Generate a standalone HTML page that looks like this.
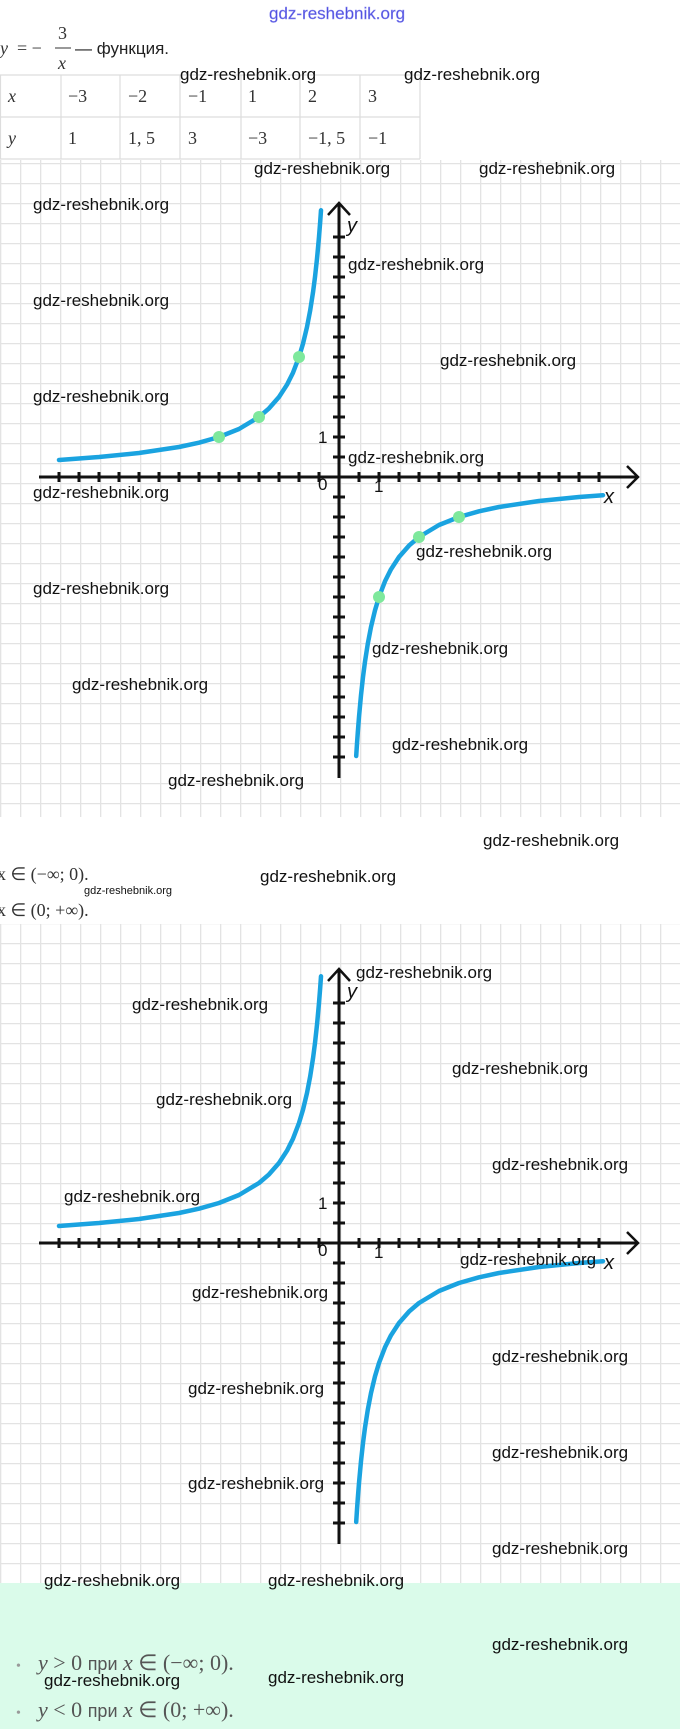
<!DOCTYPE html>
<html><head><meta charset="utf-8"><style>
html,body{margin:0;padding:0;background:#fff;}
svg{display:block;}
.wm{font-family:"Liberation Sans",sans-serif;font-size:17px;fill:#111;}
.ser{font-family:"Liberation Serif",serif;font-size:18px;fill:#333;}
.it{font-style:italic;}
</style></head><body>
<svg width="680" height="1729" viewBox="0 0 680 1729" xmlns="http://www.w3.org/2000/svg">
<defs>
<pattern id="g1" width="20" height="20" patternUnits="userSpaceOnUse" x="0" y="3">
<path d="M0 0.5H20M0.5 0V20" stroke="#e3e3e3" stroke-width="1.6" fill="none"/>
</pattern>
<g id="graph">
<g stroke="#111" stroke-width="3" fill="none" stroke-linecap="butt">
<line x1="39" y1="477" x2="637" y2="477"/>
<line x1="339" y1="204" x2="339" y2="778"/>
<polyline points="627,466 638,477 627,488" stroke-width="2.5"/>
<polyline points="328,215 339,203 350,215" stroke-width="2.5"/>
<path d="M59 472v10M79 472v10M99 472v10M119 472v10M139 472v10M159 472v10M179 472v10M199 472v10M219 472v10M239 472v10M259 472v10M279 472v10M299 472v10M319 472v10M359 472v10M379 472v10M399 472v10M419 472v10M439 472v10M459 472v10M479 472v10M499 472v10M519 472v10M539 472v10M559 472v10M579 472v10M599 472v10"/>
<path d="M333 237h12M333 257h12M333 277h12M333 297h12M333 317h12M333 337h12M333 357h12M333 377h12M333 397h12M333 417h12M333 437h12M333 457h12M333 497h12M333 517h12M333 537h12M333 557h12M333 577h12M333 597h12M333 617h12M333 637h12M333 657h12M333 677h12M333 697h12M333 717h12M333 737h12M333 757h12"/>
</g>
<g stroke="#1aa3e0" stroke-width="4.5" fill="none" stroke-linecap="round" stroke-linejoin="round">
<polyline points="59,460 99,457 139,453 179,447 199,442.7 219,437 239,429 259,417 269,408.4 279,397 287,384.7 293,372.7 299,357 303,343.7 307,327 310.2,310.3 313,292.4 315,277 317,258.8 319,237 320.2,221.7 321,210.3"/>
<polyline points="356.2,756 357,743.7 357.8,732.3 359,717 361,695.2 363,677 365,661.6 367.8,643.7 371,627 375,610.3 379,597 385,581.3 391,569.3 399,557 409,545.6 419,537 439,525 459,517 479,511.3 499,507 539,501 579,497 603,495.2"/>
</g>
<text x="318" y="443" font-family="Liberation Sans,sans-serif" font-size="17" fill="#111">1</text>
<text x="318" y="490" font-family="Liberation Sans,sans-serif" font-size="17" fill="#111">0</text>
<text x="374" y="492" font-family="Liberation Sans,sans-serif" font-size="17" fill="#111">1</text>
<text x="347" y="232" font-family="Liberation Sans,sans-serif" font-size="20" font-style="italic" fill="#111">y</text>
<text x="604" y="503" font-family="Liberation Sans,sans-serif" font-size="20" font-style="italic" fill="#111">x</text>
</g>
</defs>
<rect x="0" y="160" width="680" height="657" fill="url(#g1)"/>
<rect x="0" y="924" width="680" height="659" fill="url(#g1)"/>
<rect x="0" y="1583" width="680" height="146" fill="#dafbea"/>

<text x="269" y="19" font-family="Liberation Sans,sans-serif" font-size="17" fill="#5050e0" stroke="#9090f0" stroke-width="0.4">gdz-reshebnik.org</text>

<!-- formula -->
<text x="0" y="54" class="ser it" font-size="20">y</text>
<text x="17" y="54" class="ser" font-size="20">= −</text>
<text x="58" y="39" class="ser" font-size="20">3</text>
<line x1="55" y1="48" x2="71" y2="48" stroke="#333" stroke-width="1"/>
<text x="58" y="69" class="ser it" font-size="20">x</text>
<text x="75" y="54" font-family="Liberation Sans,sans-serif" font-size="17" fill="#222">— функция.</text>

<!-- table -->
<g stroke="#ddd" stroke-width="1.2" fill="none">
<line x1="0" y1="75" x2="420" y2="75"/><line x1="0" y1="117" x2="420" y2="117"/><line x1="0" y1="159" x2="420" y2="159"/>
<line x1="0.5" y1="75" x2="0.5" y2="159"/><line x1="61" y1="75" x2="61" y2="159"/><line x1="120" y1="75" x2="120" y2="159"/><line x1="180" y1="75" x2="180" y2="159"/><line x1="241" y1="75" x2="241" y2="159"/><line x1="300" y1="75" x2="300" y2="159"/><line x1="360" y1="75" x2="360" y2="159"/><line x1="420" y1="75" x2="420" y2="159"/>
</g>
<g class="ser">
<text x="8" y="102" class="ser it">x</text><text x="68" y="102" class="ser">−3</text><text x="128" y="102" class="ser">−2</text><text x="188" y="102" class="ser">−1</text><text x="248" y="102" class="ser">1</text><text x="308" y="102" class="ser">2</text><text x="368" y="102" class="ser">3</text>
<text x="8" y="144" class="ser it">y</text><text x="68" y="144" class="ser">1</text><text x="128" y="144" class="ser">1, 5</text><text x="188" y="144" class="ser">3</text><text x="248" y="144" class="ser">−3</text><text x="308" y="144" class="ser">−1, 5</text><text x="368" y="144" class="ser">−1</text>
</g>

<use href="#graph"/>
<g fill="#7ee89c">
<circle cx="299" cy="357" r="6"/><circle cx="259" cy="417" r="6"/><circle cx="219" cy="437" r="6"/>
<circle cx="379" cy="597" r="6"/><circle cx="419" cy="537" r="6"/><circle cx="459" cy="517" r="6"/>
</g>
<use href="#graph" transform="translate(0,766)"/>

<!-- middle text -->
<rect x="0" y="817" width="680" height="107" fill="#fff"/>
<text x="-3" y="880" class="ser" font-size="20">x ∈ (−∞; 0).</text>
<text x="-3" y="916" class="ser" font-size="20">x ∈ (0; +∞).</text>
<text x="84" y="894" font-family="Liberation Sans,sans-serif" font-size="11" fill="#111">gdz-reshebnik.org</text>

<!-- bottom bullets -->
<text x="16" y="1670" font-size="14" fill="#999">•</text>
<text x="38" y="1670" font-family="Liberation Serif,serif" font-size="22" fill="#555"><tspan font-style="italic">y</tspan> &gt; 0 <tspan font-family="Liberation Sans,sans-serif" font-size="18">при</tspan> <tspan font-style="italic">x</tspan> ∈ (−∞; 0).</text>
<text x="16" y="1717" font-size="14" fill="#999">•</text>
<text x="38" y="1717" font-family="Liberation Serif,serif" font-size="22" fill="#555"><tspan font-style="italic">y</tspan> &lt; 0 <tspan font-family="Liberation Sans,sans-serif" font-size="18">при</tspan> <tspan font-style="italic">x</tspan> ∈ (0; +∞).</text>

<!-- watermarks -->
<g class="wm">
<text x="180" y="80">gdz-reshebnik.org</text><text x="404" y="80">gdz-reshebnik.org</text>
<text x="254" y="174">gdz-reshebnik.org</text><text x="479" y="174">gdz-reshebnik.org</text>
<text x="33" y="210">gdz-reshebnik.org</text>
<text x="348" y="270">gdz-reshebnik.org</text>
<text x="33" y="306">gdz-reshebnik.org</text>
<text x="440" y="366">gdz-reshebnik.org</text>
<text x="33" y="402">gdz-reshebnik.org</text>
<text x="348" y="463">gdz-reshebnik.org</text>
<text x="33" y="498">gdz-reshebnik.org</text>
<text x="416" y="557">gdz-reshebnik.org</text>
<text x="33" y="594">gdz-reshebnik.org</text>
<text x="372" y="654">gdz-reshebnik.org</text>
<text x="72" y="690">gdz-reshebnik.org</text>
<text x="392" y="750">gdz-reshebnik.org</text>
<text x="168" y="786">gdz-reshebnik.org</text>
<text x="483" y="846">gdz-reshebnik.org</text>
<text x="260" y="882">gdz-reshebnik.org</text>
<text x="356" y="978">gdz-reshebnik.org</text>
<text x="132" y="1010">gdz-reshebnik.org</text>
<text x="452" y="1074">gdz-reshebnik.org</text>
<text x="156" y="1105">gdz-reshebnik.org</text>
<text x="492" y="1170">gdz-reshebnik.org</text>
<text x="64" y="1202">gdz-reshebnik.org</text>
<text x="460" y="1265">gdz-reshebnik.org</text>
<text x="192" y="1298">gdz-reshebnik.org</text>
<text x="492" y="1362">gdz-reshebnik.org</text>
<text x="188" y="1394">gdz-reshebnik.org</text>
<text x="492" y="1458">gdz-reshebnik.org</text>
<text x="188" y="1489">gdz-reshebnik.org</text>
<text x="492" y="1554">gdz-reshebnik.org</text>
<text x="44" y="1586">gdz-reshebnik.org</text>
<text x="268" y="1586">gdz-reshebnik.org</text>
<text x="492" y="1650">gdz-reshebnik.org</text>
<text x="44" y="1686">gdz-reshebnik.org</text>
<text x="268" y="1683">gdz-reshebnik.org</text>
</g>
</svg>
</body></html>
